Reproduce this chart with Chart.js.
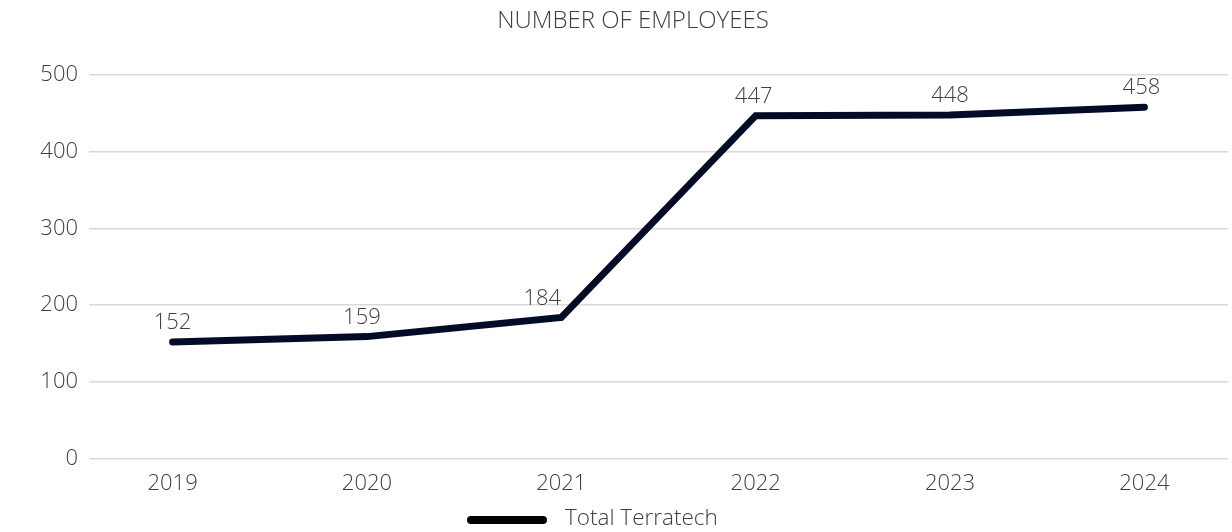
<!DOCTYPE html>
<html>
<head>
<meta charset="utf-8">
<title>Number of employees</title>
<script src="https://cdn.jsdelivr.net/npm/chart.js@4.4.1/dist/chart.umd.min.js"></script>
<style>
  html, body { margin: 0; padding: 0; background: #fff; }
  #wrap { width: 1232px; height: 532px; }
</style>
</head>
<body>
<div id="wrap"><canvas id="myChart"></canvas></div>
<script>
var years = ["2019", "2020", "2021", "2022", "2023", "2024"];
var employees = [152, 159, 184, 447, 448, 458];
var yTicks = [0, 100, 200, 300, 400, 500];
var seriesName = "Total Terratech";
var chartTitle = "NUMBER OF EMPLOYEES";

var navy = "#020c26";
var grey = "#404040";
var font = "'Open Sans', sans-serif";

// value labels above each point (small nudges where they sit off the line)
var valueLabels = {
  id: "valueLabels",
  afterDatasetsDraw: function (chart, args, opts) {
    var ctx = chart.ctx;
    var meta = chart.getDatasetMeta(0);
    ctx.save();
    ctx.font = "300 22px " + font;
    ctx.fillStyle = grey;
    ctx.textAlign = "center";
    ctx.textBaseline = "middle";
    meta.data.forEach(function (pt, i) {
      var dx = opts.nudge[i] || 0;
      ctx.fillText(String(employees[i]), pt.x + dx, pt.y - 19);
    });
    ctx.restore();
  }
};

// title on top and the line legend underneath, drawn by hand
var frame = {
  id: "frame",
  afterDraw: function (chart, args, opts) {
    var ctx = chart.ctx;
    var h = chart.height;
    ctx.save();
    ctx.fillStyle = grey;
    ctx.textBaseline = "middle";
    ctx.textAlign = "center";
    ctx.font = "300 24px " + font;
    ctx.fillText(chartTitle, opts.titleX, 21);

    ctx.strokeStyle = "#000000";
    ctx.lineWidth = 8;
    ctx.lineCap = "round";
    ctx.beginPath();
    ctx.moveTo(opts.legendX, h - 12);
    ctx.lineTo(opts.legendX + 72, h - 12);
    ctx.stroke();

    ctx.textAlign = "left";
    ctx.font = "300 22.5px " + font;
    ctx.fillText(seriesName, opts.legendX + 94, h - 13);
    ctx.restore();
  }
};

var points = years.map(function (y, i) { return { x: i, y: employees[i] }; });

new Chart("myChart", {
  type: "line",
  data: {
    datasets: [{
      label: seriesName,
      data: points,
      borderColor: navy,
      backgroundColor: navy,
      borderWidth: 7,
      borderCapStyle: "round",
      borderJoinStyle: "miter",
      pointRadius: 0,
      tension: 0
    }]
  },
  plugins: [valueLabels, frame],
  options: {
    responsive: true,
    maintainAspectRatio: false,
    animation: false,
    layout: { padding: { left: 0, right: 4, top: 75, bottom: 31 } },
    scales: {
      x: {
        type: "linear",
        min: -0.43,
        max: 5.43,
        afterBuildTicks: function (scale) {
          scale.ticks = years.map(function (y, i) { return { value: i }; });
        },
        grid: { display: false },
        border: { display: false },
        ticks: {
          padding: 4,
          color: grey,
          font: { family: font, size: 22, weight: 300 },
          callback: function (v) { return years[v]; }
        }
      },
      y: {
        min: 0,
        max: 500,
        afterBuildTicks: function (scale) {
          scale.ticks = yTicks.map(function (v) { return { value: v }; });
        },
        afterFit: function (scale) { scale.width = 89; },
        grid: { color: "#d9d9d9", lineWidth: 1.5, drawTicks: false },
        border: { display: false },
        ticks: {
          padding: 11,
          color: grey,
          font: { family: font, size: 22, weight: 300 }
        }
      }
    },
    plugins: {
      title: { display: false },
      legend: { display: false },
      tooltip: { enabled: false },
      valueLabels: { nudge: [0, -5, -19, -2, 0, -3] },
      frame: { titleX: 633, legendX: 471 }
    }
  }
});
</script>
</body>
</html>
